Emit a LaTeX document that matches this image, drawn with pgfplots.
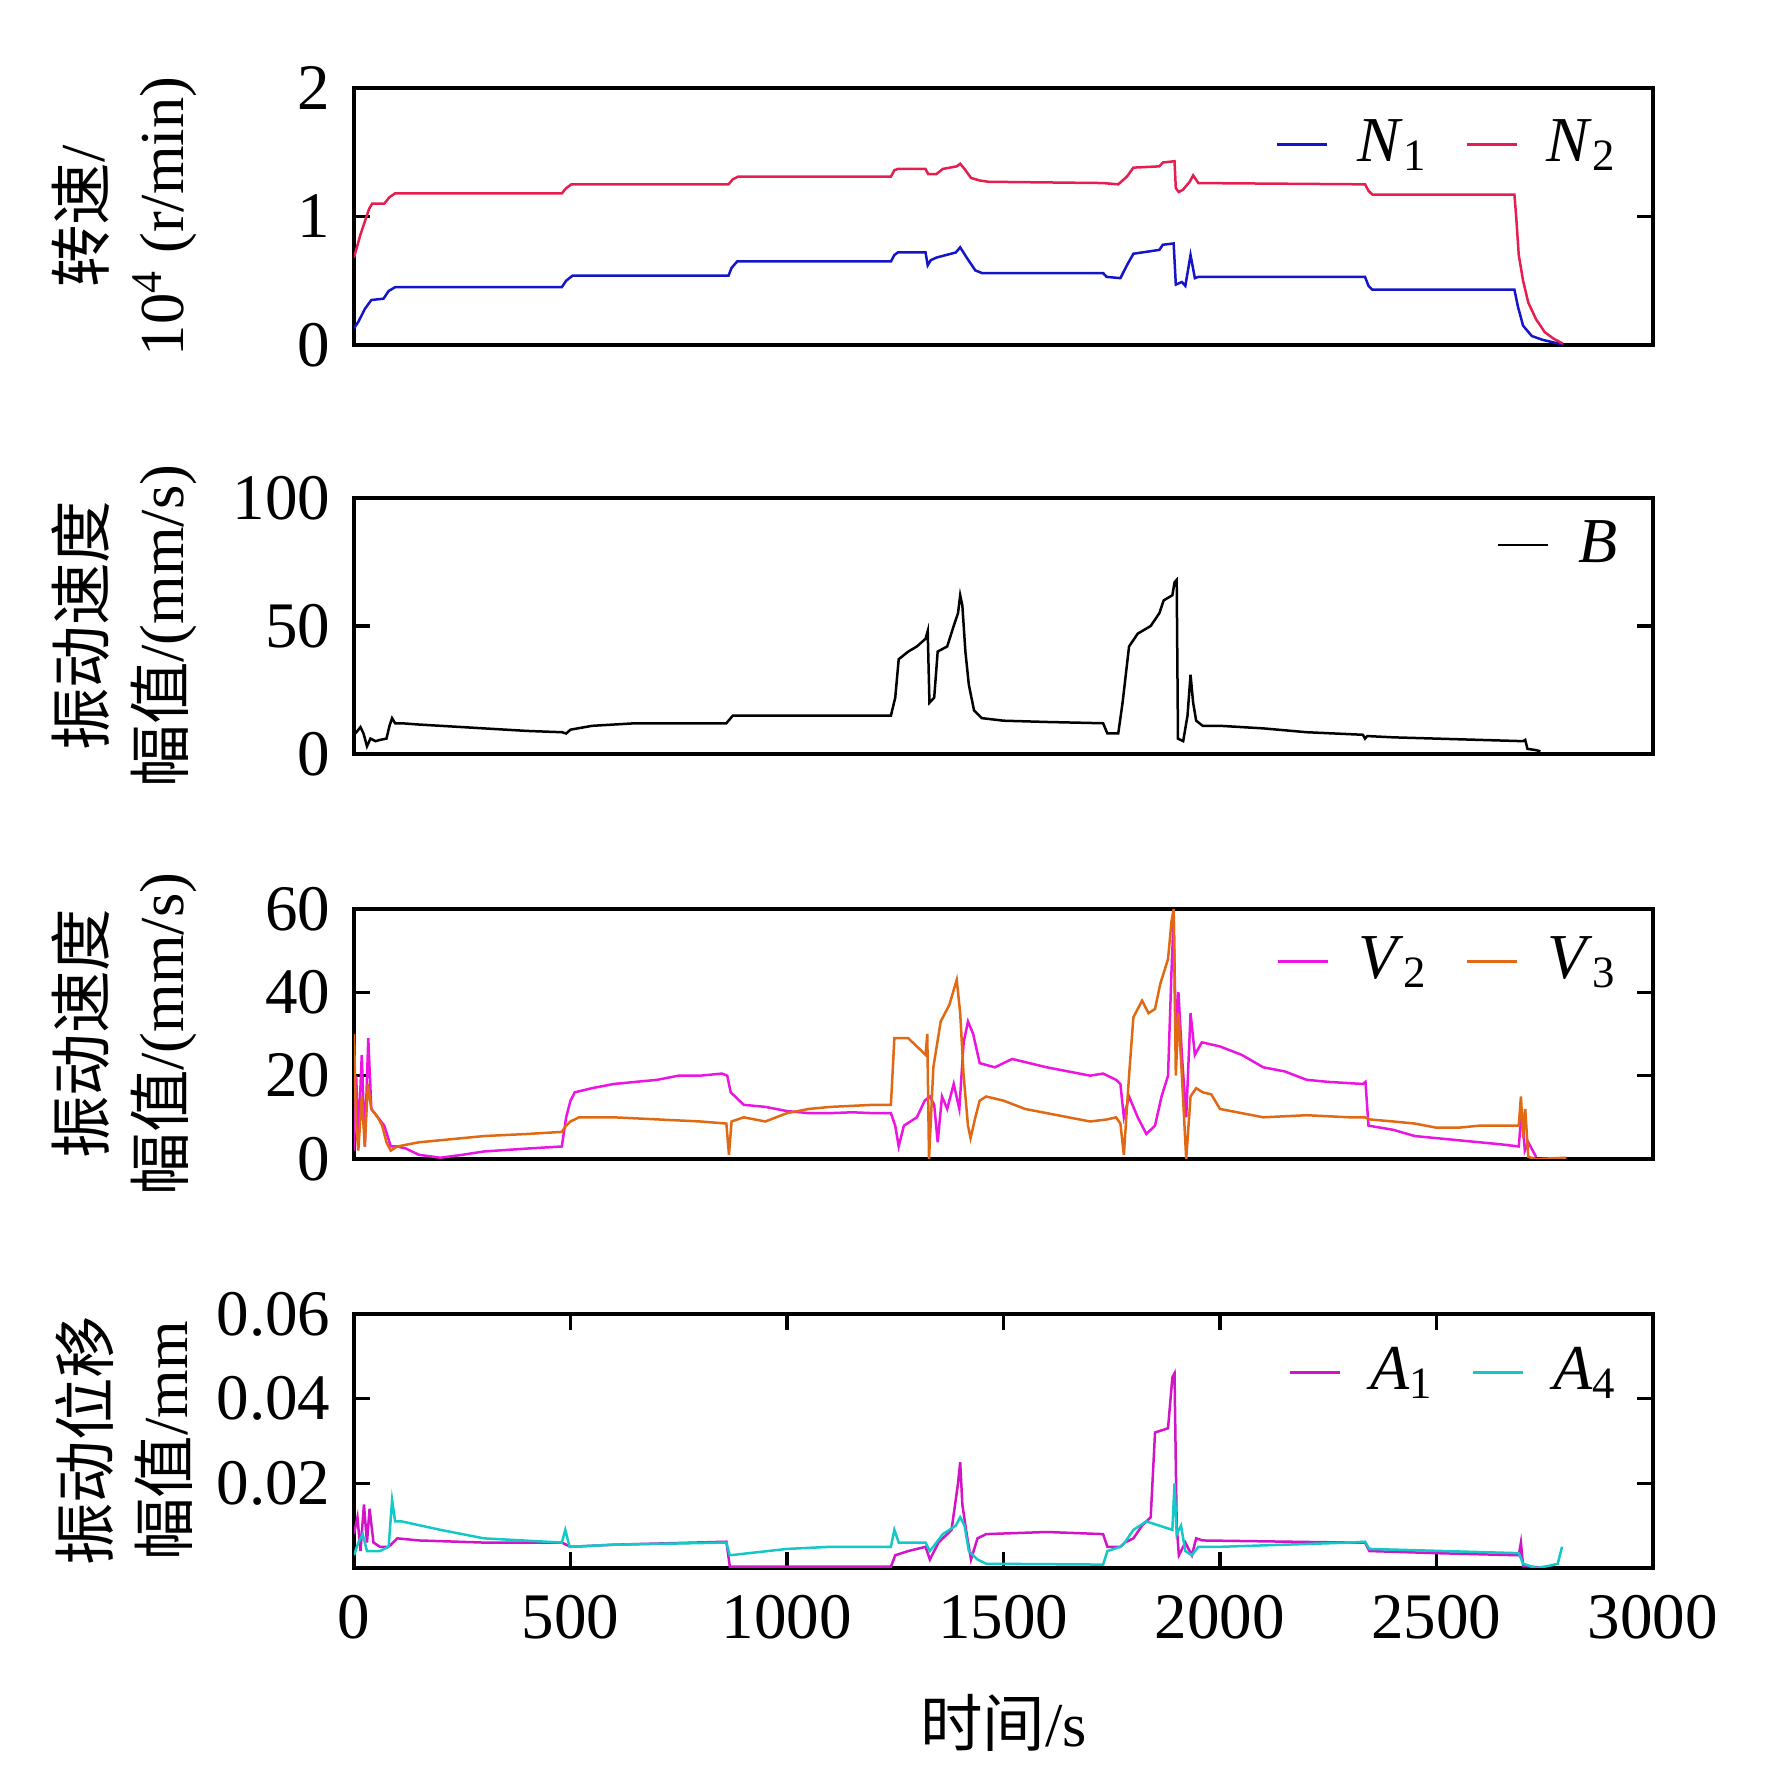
\documentclass[border=0pt]{standalone}
\usepackage{fontspec}
\setmainfont{Liberation Serif}
\newfontfamily\cjk{Noto Sans CJK SC}
\usepackage{pgfplots}
\pgfplotsset{compat=1.18}
\definecolor{cN1}{RGB}{20,20,200}
\definecolor{cN2}{RGB}{230,30,80}
\definecolor{cV2}{RGB}{235,20,225}
\definecolor{cV3}{RGB}{225,105,20}
\definecolor{cA1}{RGB}{210,20,200}
\definecolor{cA4}{RGB}{20,200,200}
\pgfplotsset{
  panel/.style={
    scale only axis, width=259.8pt, height=51pt,
    xmin=0, xmax=3000, clip=true,
    axis line style={line width=0.7pt},
    tick align=inside, major tick length=3.2pt,
    every tick/.style={black, line width=0.7pt},
    xtick pos=both, ytick pos=both,
    tick label style={font=\fontsize{13}{14}\selectfont},
    yticklabel style={xshift=-1.2pt},
    xticklabel style={yshift=-2pt},
    /pgf/number format/assume math mode=true,
    /pgf/number format/set thousands separator={},
    scaled ticks=false,
    ylabel style={at={(axis description cs:-0.1767,0.5)}, anchor=center, align=center, font=\fontsize{12.5}{15.8}\selectfont},
    legend style={draw=none, fill=none, font=\fontsize{12.8}{15}\selectfont, legend columns=-1, anchor=east, inner sep=1pt,
      /tikz/every odd column/.append style={column sep=3.8pt},
      /tikz/every even column/.append style={column sep=5.5pt}},
    legend image code/.code={\draw (0pt,0pt) -- (10pt,0pt);},
    every axis plot/.append style={line width=0.5pt},
  }
}
\begin{document}
\begin{tikzpicture}
% Panel 1
\begin{axis}[panel, at={(0,244.6pt)}, anchor=south west, height=51.4pt,
  ymin=0, ymax=2, ytick={0,1,2}, xtick=\empty,
  ylabel={{\cjk 转速}/\\10\textsuperscript{4} (r/min)},
  legend style={at={(axis description cs:0.985,0.78)}}]
\addplot[cN1] coordinates {(0,0.13)(10,0.18)(25,0.28)(40,0.35)(68,0.36)(80,0.42)(95,0.45)(480,0.45)(490,0.50)(505,0.54)(865,0.54)(872,0.6)(885,0.65)(1240,0.65)(1248,0.70)(1256,0.72)(1320,0.72)(1325,0.62)(1332,0.66)(1345,0.68)(1390,0.72)(1400,0.76)(1415,0.68)(1435,0.58)(1450,0.56)(1730,0.56)(1738,0.53)(1770,0.52)(1785,0.62)(1800,0.71)(1860,0.74)(1868,0.78)(1893,0.79)(1898,0.47)(1912,0.49)(1920,0.46)(1932,0.70)(1942,0.52)(1950,0.53)(2335,0.53)(2343,0.46)(2352,0.43)(2680,0.43)(2688,0.30)(2700,0.15)(2720,0.07)(2745,0.04)(2770,0.02)(2792,0.005)};
\addlegendentry{\textit{N}\textsubscript{1}}
\addplot[cN2] coordinates {(0,0.68)(15,0.86)(35,1.06)(42,1.10)(70,1.10)(82,1.15)(95,1.18)(480,1.18)(490,1.22)(502,1.25)(865,1.25)(875,1.29)(887,1.31)(1240,1.31)(1248,1.36)(1256,1.37)(1320,1.37)(1326,1.33)(1345,1.33)(1360,1.37)(1392,1.39)(1400,1.41)(1410,1.37)(1425,1.30)(1445,1.28)(1465,1.27)(1730,1.26)(1765,1.25)(1785,1.31)(1800,1.38)(1860,1.39)(1868,1.42)(1895,1.43)(1898,1.22)(1905,1.19)(1915,1.21)(1930,1.27)(1938,1.32)(1950,1.26)(2335,1.25)(2343,1.20)(2352,1.17)(2680,1.17)(2684,1.0)(2690,0.7)(2700,0.5)(2712,0.33)(2730,0.2)(2750,0.1)(2770,0.05)(2792,0.01)};
\addlegendentry{\textit{N}\textsubscript{2}}
\end{axis}
% Panel 2
\begin{axis}[panel, at={(0,162.8pt)}, anchor=south west, height=51.2pt,
  ymin=0, ymax=100, ytick={0,50,100}, xtick=\empty,
  ylabel={{\cjk 振动速度}\\{\cjk 幅值}/(mm/s)},
  legend style={at={(axis description cs:0.985,0.816)}}]
\addplot[black] coordinates {(0,7.5)(8,9)(15,10.5)(22,8)(30,3)(38,6)(50,5)(60,5.5)(75,6)(82,11)(88,14)(95,12)(110,12)(150,11.5)(200,11)(300,10)(400,9)(480,8.5)(490,8)(500,9.5)(550,11)(650,12)(860,12)(875,15)(1000,15)(1240,15)(1250,22)(1258,37)(1280,40)(1300,42)(1320,45)(1325,48)(1329,20)(1340,22)(1348,40)(1370,42)(1385,50)(1395,55)(1400,62)(1405,58)(1412,40)(1420,27)(1432,17)(1450,14)(1500,13)(1600,12.5)(1730,12)(1740,8)(1765,8)(1775,20)(1790,42)(1810,47)(1840,50)(1860,55)(1870,60)(1890,62)(1895,67)(1900,68)(1903,6)(1915,5)(1925,15)(1932,31)(1938,20)(1945,13)(1960,11)(2000,11)(2100,10)(2200,8.5)(2330,7.5)(2335,6)(2340,7)(2400,6.5)(2500,6)(2600,5.5)(2700,5)(2705,5.5)(2710,2)(2730,1.5)(2740,1)};
\addlegendentry{\textit{B}}
\end{axis}
% Panel 3
\begin{axis}[panel, at={(0,81.8pt)}, anchor=south west, height=50pt,
  ymin=0, ymax=60, ytick={0,20,40,60}, xtick=\empty,
  ylabel={{\cjk 振动速度}\\{\cjk 幅值}/(mm/s)},
  legend style={at={(axis description cs:0.985,0.79)}}]
\addplot[cV2] coordinates {(0,2)(5,20)(10,5)(18,25)(25,3)(33,29)(40,12)(55,10)(70,8)(85,3)(100,3)(120,2.5)(150,1)(200,0.3)(250,1)(300,1.8)(400,2.5)(480,3)(490,10)(500,14)(510,16)(530,16.5)(550,17)(600,18)(650,18.5)(700,19)(750,20)(800,20)(850,20.5)(862,20)(870,16)(900,13)(950,12.5)(1000,11.5)(1050,11)(1100,11)(1150,11.2)(1200,11)(1240,11)(1250,8)(1258,3)(1270,8)(1300,10)(1318,14)(1330,15)(1340,13)(1348,4)(1358,15)(1370,12)(1385,18)(1398,12)(1408,28)(1418,33)(1430,30)(1445,23)(1480,22)(1520,24)(1560,23)(1600,22)(1650,21)(1700,20)(1730,20.5)(1760,19)(1770,18)(1778,10)(1790,15)(1810,10)(1830,6)(1850,8)(1865,15)(1880,20)(1888,45)(1893,58)(1898,30)(1904,40)(1912,25)(1922,10)(1932,35)(1942,25)(1958,28)(2000,27)(2050,25)(2100,22)(2150,21)(2200,19)(2250,18.5)(2330,18)(2336,18.5)(2343,8)(2400,7)(2450,5.5)(2500,5)(2550,4.5)(2600,4)(2650,3.5)(2690,3)(2697,12)(2704,2)(2712,4)(2730,0.5)};
\addlegendentry{\textit{V}\textsubscript{2}}
\addplot[cV3] coordinates {(0,30)(5,8)(10,2)(18,15)(25,3)(32,18)(40,12)(55,10)(65,8)(75,4)(85,2)(100,3)(150,4)(200,4.5)(250,5)(300,5.5)(400,6)(480,6.5)(490,8)(500,9)(520,10)(600,10)(700,9.5)(800,9)(860,8.5)(866,1)(872,9)(900,10)(950,9)(1000,11)(1050,12)(1100,12.5)(1200,13)(1240,13)(1248,29)(1280,29)(1300,27)(1320,25)(1324,30)(1328,0)(1338,22)(1355,33)(1375,37)(1392,43)(1400,35)(1408,20)(1418,8)(1424,5)(1435,10)(1445,14)(1460,15)(1500,14)(1550,12)(1600,11)(1650,10)(1700,9)(1740,9.5)(1760,10)(1770,8.5)(1778,1)(1790,20)(1800,34)(1820,38)(1835,35)(1850,36)(1862,42)(1880,48)(1888,57)(1893,60)(1898,20)(1904,35)(1912,20)(1922,0)(1932,15)(1945,17)(1960,16)(1980,15.5)(2000,12)(2050,11)(2100,10)(2200,10.5)(2300,10)(2335,10)(2345,9.5)(2400,9)(2450,8.5)(2500,7.5)(2550,7.5)(2600,8)(2690,8)(2695,15)(2700,5)(2705,12)(2712,0.5)(2730,0)(2800,0.3)};
\addlegendentry{\textit{V}\textsubscript{3}}
\end{axis}
% Panel 4
\begin{axis}[panel, at={(0,0)}, anchor=south west, height=50.8pt,
  ymin=0, ymax=0.06, ytick={0.02,0.04,0.06},
  yticklabel style={/pgf/number format/fixed, /pgf/number format/precision=2, /pgf/number format/fixed zerofill},
  xtick={0,500,1000,1500,2000,2500,3000},
  ylabel={{\cjk 振动位移}\\{\cjk 幅值}/mm},
  xlabel={{\cjk 时间}/s},
  xlabel style={at={(axis description cs:0.5,0)}, anchor=center, yshift=-31pt, font=\fontsize{12.5}{15}\selectfont},
  legend style={at={(axis description cs:0.985,0.77)}}]
\addplot[cA1] coordinates {(0,0.008)(8,0.012)(15,0.004)(23,0.015)(30,0.006)(36,0.014)(45,0.006)(60,0.005)(80,0.005)(100,0.007)(150,0.0065)(300,0.006)(480,0.006)(500,0.005)(600,0.0055)(860,0.0062)(868,0.0003)(1240,0.0003)(1250,0.003)(1280,0.004)(1320,0.005)(1330,0.002)(1350,0.006)(1380,0.009)(1395,0.020)(1400,0.025)(1405,0.015)(1415,0.008)(1425,0.002)(1440,0.007)(1460,0.008)(1600,0.0085)(1730,0.008)(1740,0.005)(1770,0.005)(1780,0.006)(1800,0.007)(1820,0.010)(1840,0.012)(1850,0.032)(1880,0.033)(1890,0.045)(1895,0.046)(1900,0.010)(1905,0.003)(1920,0.006)(1935,0.003)(1945,0.007)(1960,0.0065)(2300,0.006)(2335,0.006)(2345,0.004)(2500,0.0035)(2690,0.003)(2695,0.006)(2700,0.0005)(2750,0.0)};
\addlegendentry{\textit{A}\textsubscript{1}}
\addplot[cA4] coordinates {(0,0.003)(10,0.006)(20,0.008)(30,0.004)(60,0.004)(80,0.005)(88,0.016)(95,0.011)(110,0.011)(200,0.009)(300,0.007)(480,0.006)(488,0.009)(498,0.005)(600,0.0055)(860,0.006)(868,0.003)(1000,0.0045)(1100,0.005)(1240,0.005)(1248,0.009)(1258,0.006)(1320,0.006)(1330,0.004)(1360,0.008)(1390,0.010)(1400,0.012)(1410,0.010)(1420,0.004)(1440,0.002)(1460,0.001)(1730,0.0008)(1740,0.004)(1770,0.005)(1780,0.006)(1800,0.009)(1830,0.011)(1860,0.010)(1890,0.009)(1895,0.020)(1900,0.008)(1910,0.010)(1920,0.004)(1935,0.003)(1950,0.005)(2000,0.005)(2300,0.006)(2335,0.0062)(2345,0.0045)(2690,0.0035)(2700,0.001)(2730,0.0)(2760,0.0005)(2780,0.001)(2790,0.005)};
\addlegendentry{\textit{A}\textsubscript{4}}
\end{axis}
\pgfresetboundingbox
\path[use as bounding box] (-70.8pt,-39.4pt) rectangle (283.6pt,313.6pt);
\end{tikzpicture}
\end{document}
